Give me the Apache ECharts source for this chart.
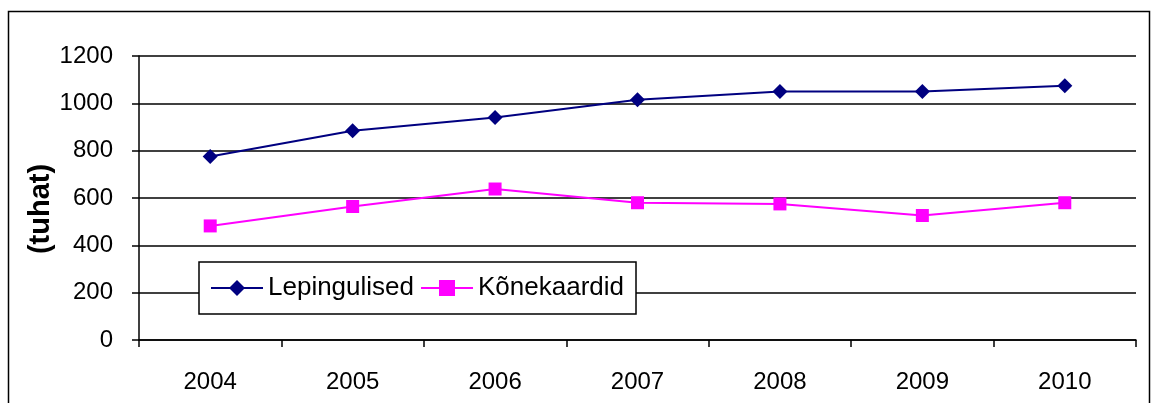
<!DOCTYPE html>
<html>
<head>
<meta charset="utf-8">
<script src="https://cdn.jsdelivr.net/npm/echarts@6/dist/echarts.min.js"></script>
<style>
  html, body { margin: 0; padding: 0; background: #fff; }
  #chart { width: 1158px; height: 403px; }
</style>
</head>
<body>
<div id="chart"></div>
<script>
  // data
  const years = ['2004', '2005', '2006', '2007', '2008', '2009', '2010'];
  const lepingulised = [775, 884, 940, 1015, 1050, 1050, 1074];
  const konekaardid = [482, 564, 638, 580, 575, 526, 580];

  const font = 'Liberation Sans, Arial, sans-serif';

  const chart = echarts.init(document.getElementById('chart'));
  chart.setOption({
    animation: false,
    backgroundColor: '#fff',
    graphic: [
      {
        type: 'rect',
        shape: { x: 8.5, y: 11.5, width: 1141, height: 420 },
        style: { fill: null, stroke: '#000', lineWidth: 1.5 },
        z: -1,
      },
    ],
    grid: {
      left: 139,
      right: 22,
      top: 56,
      bottom: 63,
    },
    legend: {
      left: 199,
      top: 262,
      orient: 'horizontal',
      backgroundColor: '#fff',
      borderColor: '#000',
      borderWidth: 1.5,
      borderRadius: 0,
      padding: [13, 12, 13, 11],
      itemGap: 6,
      itemWidth: 52,
      itemHeight: 20,
      textStyle: { fontFamily: font, fontSize: 26, color: '#000' },
      data: ['Lepingulised', 'Kõnekaardid'],
    },
    xAxis: {
      type: 'category',
      data: years,
      boundaryGap: true,
      axisLine: { lineStyle: { color: '#000', width: 1.5 } },
      axisTick: { show: true, length: 7, lineStyle: { color: '#000', width: 1.5 } },
      axisLabel: { fontFamily: font, fontSize: 24, color: '#000', margin: 30 },
    },
    yAxis: {
      type: 'value',
      min: 0,
      max: 1200,
      interval: 200,
      name: '(tuhat)',
      nameLocation: 'middle',
      nameRotate: 90,
      nameGap: 84,
      nameMoveOverlap: false,
      nameTextStyle: {
        fontFamily: font, fontSize: 29, fontWeight: 'bold', color: '#000',
        padding: [0, 22, 0, 0],
      },
      axisLine: { show: true, lineStyle: { color: '#000', width: 1.5 } },
      axisTick: { show: true, length: 7, lineStyle: { color: '#000', width: 1.5 } },
      axisLabel: {
        fontFamily: font, fontSize: 24, color: '#000', margin: 26,
        formatter: (v) => String(v),
      },
      splitLine: { show: true, lineStyle: { color: '#000', width: 1.5 } },
    },
    series: [
      {
        name: 'Lepingulised',
        type: 'line',
        data: lepingulised,
        symbol: 'diamond',
        symbolSize: 15,
        color: '#000080',
        lineStyle: { color: '#000080', width: 2 },
        itemStyle: { color: '#000080' },
      },
      {
        name: 'Kõnekaardid',
        type: 'line',
        data: konekaardid,
        symbol: 'rect',
        symbolSize: 13,
        color: '#ff00ff',
        lineStyle: { color: '#ff00ff', width: 2 },
        itemStyle: { color: '#ff00ff' },
      },
    ],
  });
</script>
</body>
</html>
